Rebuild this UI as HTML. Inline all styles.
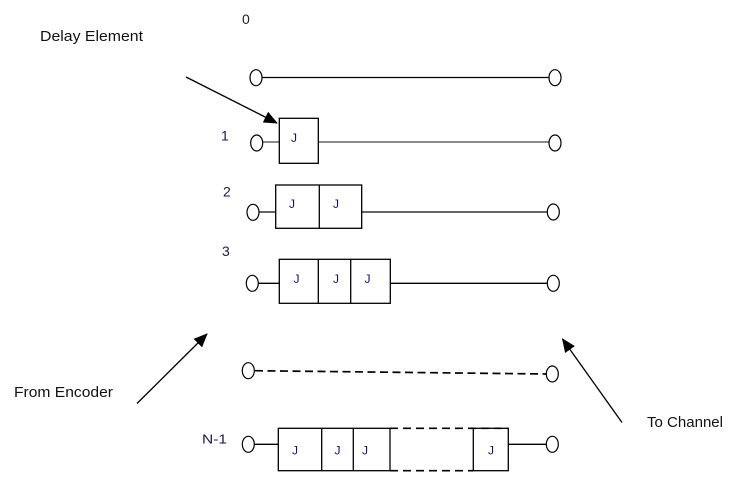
<!DOCTYPE html>
<html>
<head>
<meta charset="utf-8">
<style>
html,body{margin:0;padding:0;background:#fff;}
svg{display:block;}
text{font-family:"Liberation Sans",sans-serif;}
</style>
</head>
<body>
<svg width="733" height="483" viewBox="0 0 733 483" xmlns="http://www.w3.org/2000/svg">
<defs>
<marker id="ah" markerUnits="userSpaceOnUse" markerWidth="14" markerHeight="12" viewBox="0 0 14 12" refX="13" refY="6" orient="auto">
<path d="M0,0 L14,6 L0,12 Z" fill="#000"/>
</marker>
</defs>

<!-- labels -->
<text x="40" y="41" font-size="14.5" fill="#111" textLength="103" lengthAdjust="spacingAndGlyphs">Delay Element</text>
<text x="14" y="397" font-size="14.5" fill="#111" textLength="99" lengthAdjust="spacingAndGlyphs">From Encoder</text>
<text x="647" y="427" font-size="14.5" fill="#111" textLength="76" lengthAdjust="spacingAndGlyphs">To Channel</text>

<text x="242" y="24" font-size="14" fill="#1a1a40">0</text>
<text x="221" y="140.5" font-size="14" fill="#1a1a40">1</text>
<text x="223" y="196.5" font-size="14" fill="#1a1a40">2</text>
<text x="222" y="256" font-size="14" fill="#1a1a40">3</text>
<text x="202" y="443.5" font-size="13" fill="#1a1a50" textLength="25" lengthAdjust="spacingAndGlyphs">N-1</text>

<!-- arrows -->
<line x1="186" y1="77" x2="277" y2="123" stroke="#000" stroke-width="1.3" marker-end="url(#ah)"/>
<line x1="137" y1="403.5" x2="207" y2="334" stroke="#000" stroke-width="1.3" marker-end="url(#ah)"/>
<line x1="622" y1="422.5" x2="562.5" y2="339" stroke="#000" stroke-width="1.3" marker-end="url(#ah)"/>

<g fill="none" stroke="#000" stroke-width="1.3">
<!-- row 0 -->
<line x1="262" y1="77.5" x2="549" y2="77.5"/>
<!-- row 1 -->
<line x1="262.5" y1="142" x2="279.3" y2="142" stroke="#444"/>
<line x1="318.3" y1="142" x2="549" y2="142" stroke="#444"/>
<rect x="279.3" y="118.3" width="39" height="45" fill="#fff"/>
<!-- row 2 -->
<line x1="259" y1="212" x2="275.7" y2="212" stroke="#666" stroke-width="2"/>
<line x1="361.7" y1="212" x2="547.5" y2="212" stroke="#666" stroke-width="2"/>
<rect x="275.7" y="185" width="86" height="43.3" fill="#fff"/>
<line x1="319.3" y1="185" x2="319.3" y2="228.3"/>
<!-- row 3 -->
<line x1="258.3" y1="283.3" x2="279.3" y2="283.3"/>
<line x1="390.3" y1="283.3" x2="547.5" y2="283.3"/>
<rect x="279.3" y="259.3" width="111" height="44" fill="#fff"/>
<line x1="318.3" y1="259.3" x2="318.3" y2="303.3"/>
<line x1="350.7" y1="259.3" x2="350.7" y2="303.3"/>
<!-- dashed row -->
<line x1="255" y1="370.7" x2="546" y2="374" stroke-width="1.7" stroke-dasharray="8,4.5"/>
<!-- N-1 row -->
<line x1="254.3" y1="444.3" x2="278.3" y2="444.3"/>
<line x1="508.3" y1="444.3" x2="546.3" y2="444.3"/>
<rect x="278.3" y="428.3" width="111.7" height="42.4" fill="#fff"/>
<line x1="321.7" y1="428.3" x2="321.7" y2="470.7"/>
<line x1="353.3" y1="428.3" x2="353.3" y2="470.7"/>
<line x1="390" y1="428.3" x2="508" y2="428.3" stroke-width="1.6" stroke-dasharray="8,5"/>
<line x1="390" y1="470.7" x2="473.3" y2="470.7" stroke-width="1.6" stroke-dasharray="8,5"/>
<rect x="473.3" y="428.3" width="35" height="42.4"/>
</g>

<!-- circles -->
<g fill="#fff" stroke="#000" stroke-width="1.2">
<ellipse cx="256" cy="77.7" rx="6" ry="8"/>
<ellipse cx="555" cy="77.7" rx="6" ry="8"/>
<ellipse cx="256.7" cy="143" rx="6" ry="8"/>
<ellipse cx="555" cy="143" rx="6" ry="8"/>
<ellipse cx="253" cy="212.3" rx="6" ry="8"/>
<ellipse cx="553.3" cy="212" rx="6" ry="8"/>
<ellipse cx="252.3" cy="283.3" rx="6" ry="8"/>
<ellipse cx="553.3" cy="283.3" rx="6" ry="8"/>
<ellipse cx="248.3" cy="370.7" rx="6" ry="8"/>
<ellipse cx="552.3" cy="374" rx="6" ry="8"/>
<ellipse cx="248.3" cy="444.3" rx="6" ry="8"/>
<ellipse cx="552.3" cy="444.3" rx="6" ry="8"/>
</g>

<!-- J labels -->
<g font-size="12" fill="#12126a">
<text x="291" y="142">J</text>
<text x="289" y="208">J</text>
<text x="333" y="208">J</text>
<text x="293.5" y="283">J</text>
<text x="333" y="283">J</text>
<text x="364.5" y="283">J</text>
<text x="292" y="454.5">J</text>
<text x="334.5" y="454.5">J</text>
<text x="362" y="454.5">J</text>
<text x="488" y="454.5">J</text>
</g>
</svg>
</body>
</html>
